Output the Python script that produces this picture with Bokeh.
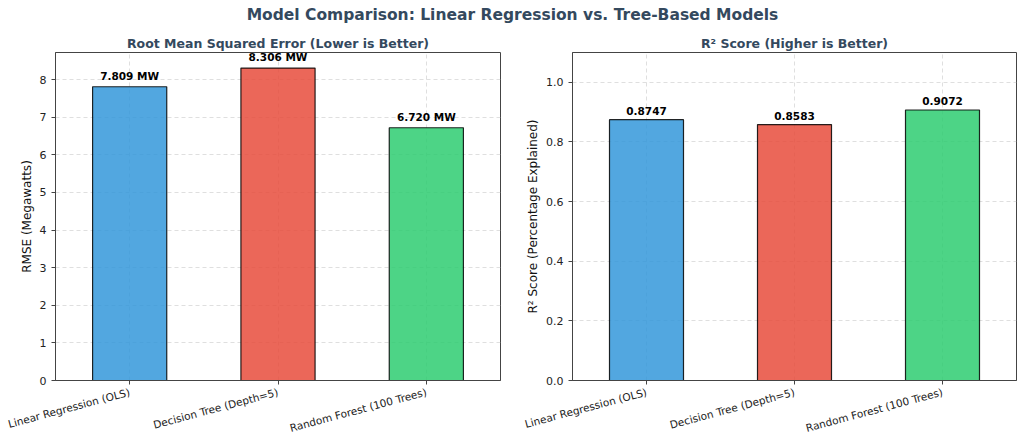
from bokeh.plotting import figure
from bokeh.layouts import column, row
from bokeh.models import ColumnDataSource, Range1d, FactorRange, FixedTicker, SingleIntervalTicker, NumeralTickFormatter
from bokeh.core.properties import value
from bokeh.embed import file_html
from bokeh.resources import INLINE
import math

# --- data ---
models = ["Linear Regression (OLS)", "Decision Tree (Depth=5)", "Random Forest (100 Trees)"]
rmse = [7.809, 8.306, 6.720]
r2 = [0.8747, 0.8583, 0.9072]
bar_colors = ["#3498db", "#e74c3c", "#2ecc71"]
rmse_labels = [f"{v:.3f} MW" for v in rmse]
r2_labels = [f"{v:.4f}" for v in r2]

main_title = "Model Comparison: Linear Regression vs. Tree-Based Models"
FONT = "DejaVu Sans"


def style(p):
    p.outline_line_color = "#444444"
    p.outline_line_width = 1
    p.background_fill_color = "white"
    p.border_fill_color = "white"
    p.grid.grid_line_color = "#cccccc"
    p.grid.grid_line_alpha = 0.8
    p.grid.grid_line_dash = "4 3"
    p.grid.grid_line_width = 0.8
    for ax in p.axis:
        ax.axis_line_color = "#444444"
        ax.major_tick_line_color = "#444444"
        ax.major_tick_out = 4
        ax.major_tick_in = 0
        ax.minor_tick_line_color = None
        ax.major_label_text_font = FONT
        ax.major_label_text_font_size = "11px"
        ax.major_label_text_color = "#222222"
        ax.axis_label_text_font = FONT
        ax.axis_label_text_font_size = "12px"
        ax.axis_label_text_font_style = "normal"
        ax.axis_label_text_color = "#111111"
    p.yaxis.axis_label_standoff = 3
    p.xaxis.major_label_orientation = math.radians(15)
    p.xaxis.major_label_text_font_size = "10.5px"
    p.xaxis.major_label_standoff = 7
    p.title.align = "center"
    p.title.text_font = FONT
    p.title.text_font_size = "12.5px"
    p.title.text_font_style = "bold"
    p.title.text_color = "#34495e"
    p.title.standoff = 4


def panel(values, labels, title, ylabel, ymax, left_border, right_border):
    src = ColumnDataSource(dict(model=models, val=values, color=bar_colors, label=labels))
    p = figure(width=512, height=412, x_range=FactorRange(*models, range_padding=0),
               y_range=Range1d(0, ymax), title=title,
               toolbar_location=None, output_backend="svg",
               min_border_left=left_border, min_border_right=right_border,
               min_border_top=22, min_border_bottom=61)
    p.vbar(x="model", top="val", width=0.5, source=src, fill_color="color", fill_alpha=0.85,
           line_color="black", line_alpha=0.85, line_width=1.2)
    p.text(x="model", y="val", text="label", source=src, text_align="center",
           text_baseline="bottom", y_offset=-5, text_font=value(FONT),
           text_font_size="10.5px", text_font_style="bold", text_color="black")
    p.yaxis.axis_label = ylabel
    style(p)
    return p


p1 = panel(rmse, rmse_labels, "Root Mean Squared Error (Lower is Better)", "RMSE (Megawatts)",
           8.72, 55, 12)
p1.yaxis.ticker = SingleIntervalTicker(interval=1)

p2 = panel(r2, r2_labels, "R\u00b2 Score (Higher is Better)", "R\u00b2 Score (Percentage Explained)",
           1.1, 60, 8)
p2.yaxis.ticker = FixedTicker(ticks=[0, 0.2, 0.4, 0.6, 0.8, 1.0])
p2.yaxis.formatter = NumeralTickFormatter(format="0.0")

head = figure(width=1024, height=30, x_range=(0, 1), y_range=(0, 1),
              toolbar_location=None, output_backend="svg",
              x_axis_type=None, y_axis_type=None,
              min_border=0)
head.outline_line_color = None
head.grid.visible = False
head.text(x=[0.5], y=[0.53], text=[main_title], text_align="center", text_baseline="middle",
          text_font=value(FONT), text_font_size="15.5px", text_font_style="bold", text_color="#34495e")

layout = column(head, row(p1, p2))
open("out.html", "w").write(file_html(layout, INLINE))
